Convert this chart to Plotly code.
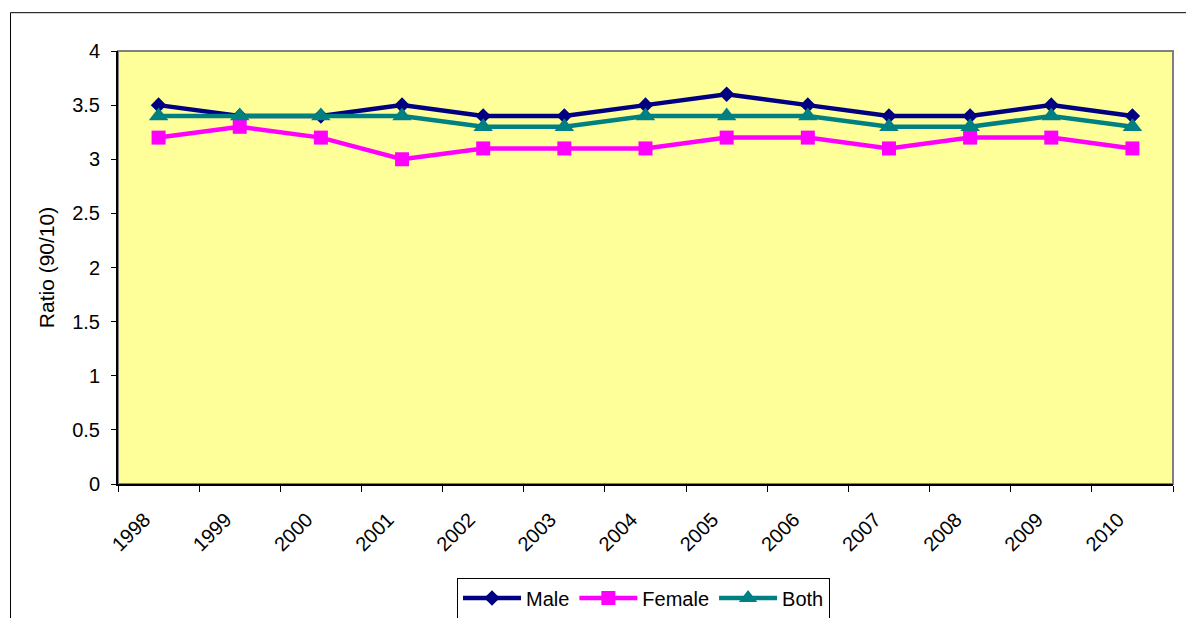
import plotly.graph_objects as go

years = ["1998", "1999", "2000", "2001", "2002", "2003", "2004",
         "2005", "2006", "2007", "2008", "2009", "2010"]
male = [3.5, 3.4, 3.4, 3.5, 3.4, 3.4, 3.5, 3.6, 3.5, 3.4, 3.4, 3.5, 3.4]
female = [3.2, 3.3, 3.2, 3.0, 3.1, 3.1, 3.1, 3.2, 3.2, 3.1, 3.2, 3.2, 3.1]
both = [3.4, 3.4, 3.4, 3.4, 3.3, 3.3, 3.4, 3.4, 3.4, 3.3, 3.3, 3.4, 3.3]

y_ticks = [0, 0.5, 1, 1.5, 2, 2.5, 3, 3.5, 4]
y_tick_text = ["0", "0.5", "1", "1.5", "2", "2.5", "3", "3.5", "4"]

FONT = "Liberation Sans, Arial, sans-serif"

fig = go.Figure()
fig.add_trace(go.Scatter(
    x=years, y=male, name="Male", mode="lines+markers",
    line=dict(color="#000080", width=4.5),
    marker=dict(symbol="diamond", size=12, color="#000080"),
))
fig.add_trace(go.Scatter(
    x=years, y=female, name="Female", mode="lines+markers",
    line=dict(color="#FF00FF", width=4.5),
    marker=dict(symbol="square", size=14, color="#FF00FF"),
))
fig.add_trace(go.Scatter(
    x=years, y=both, name="Both", mode="lines+markers",
    line=dict(color="#008080", width=4.5),
    marker=dict(symbol="triangle-up", size=17, color="#008080"),
))

# plot-area border (grey) and outer chart frame
fig.add_shape(type="rect", xref="paper", yref="paper", x0=0, y0=0, x1=1, y1=1,
              line=dict(color="#808080", width=2), layer="below")
fig.add_shape(type="rect", xref="paper", yref="paper",
              x0=-0.1019, y0=-0.5, x1=1.2, y1=1.0885,
              line=dict(color="#000000", width=1))

fig.update_layout(
    width=1186, height=618,
    margin=dict(l=118, r=13, t=51, b=134, autoexpand=False),
    paper_bgcolor="white",
    plot_bgcolor="#FFFF99",
    font=dict(family=FONT, size=20, color="black"),
    showlegend=True,
    legend=dict(
        orientation="h",
        xref="container", yref="container",
        x=643.5 / 1186, xanchor="center",
        y=(618 - 598) / 618, yanchor="middle",
        bordercolor="black", borderwidth=1,
        bgcolor="white",
        font=dict(size=20),
        itemwidth=58,
        tracegroupgap=0,
    ),
)
fig.update_xaxes(
    type="category",
    tickson="boundaries",
    ticks="outside", ticklen=6, tickwidth=1, tickcolor="#000000",
    tickangle=-45,
    ticklabelstandoff=14,
    ticklabelshift=-14,
    showline=True, linecolor="#000000", linewidth=2,
    showgrid=False, zeroline=False,
    automargin=False,
    tickfont=dict(size=20),
    range=[-0.5, 12.5],
)
fig.update_yaxes(
    range=[0, 4],
    tickvals=y_ticks, ticktext=y_tick_text,
    ticks="outside", ticklen=5, tickwidth=1, tickcolor="#000000",
    ticklabelstandoff=7,
    showline=True, linecolor="#000000", linewidth=2,
    showgrid=False, zeroline=False,
    automargin=False,
    tickfont=dict(size=20),
    title=dict(text="Ratio (90/10)", font=dict(size=21), standoff=12),
)

fig.write_html("out.html")
